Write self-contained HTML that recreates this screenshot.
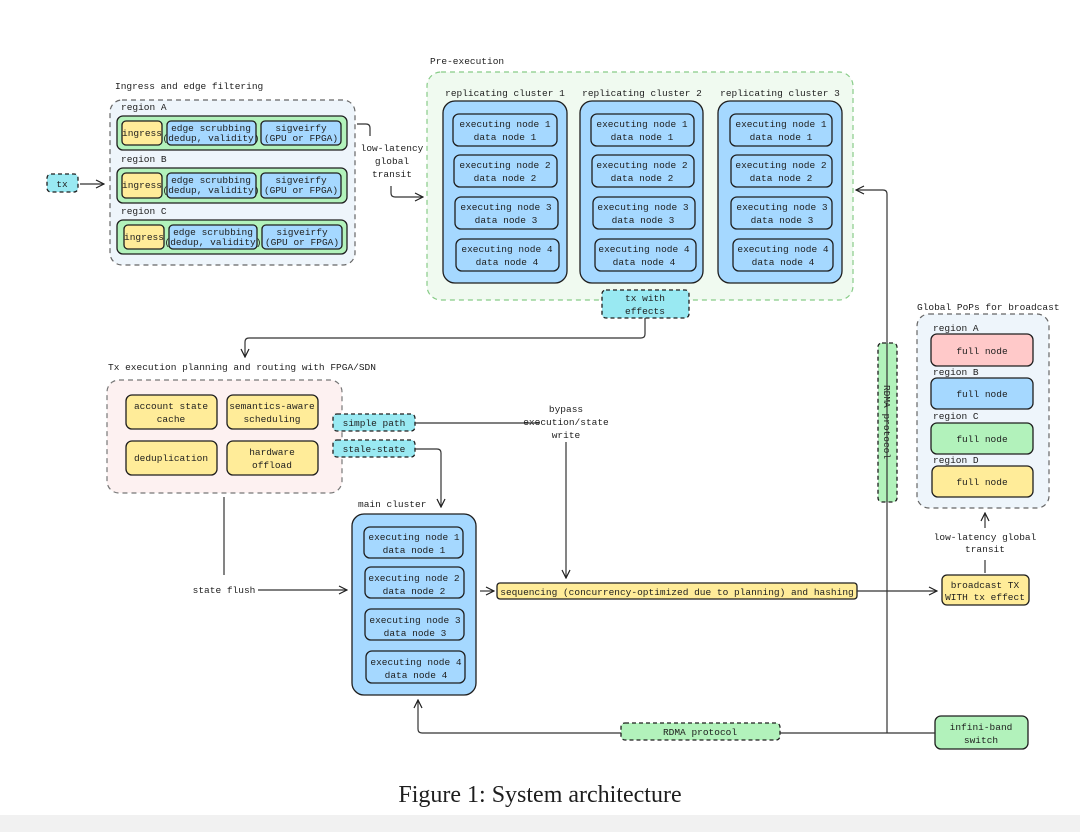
<!DOCTYPE html>
<html><head><meta charset="utf-8"><style>
html,body{margin:0;padding:0;background:#fff;}
svg text{font-family:"Liberation Mono",monospace;font-size:9.5px;fill:#1e1e1e;}
</style></head><body>
<svg width="1080" height="832" viewBox="0 0 1080 832" xmlns="http://www.w3.org/2000/svg">
<defs>
<marker id="a" markerWidth="10" markerHeight="10" refX="9" refY="5" orient="auto" markerUnits="userSpaceOnUse"><path d="M1,1 L9,5 L1,9" fill="none" stroke="#1e1e1e" stroke-width="1.2"/></marker>
</defs>
<rect x="0" y="815" width="1080" height="17" fill="#f1f1f1"/>
<g stroke="#1e1e1e" stroke-width="1.2" fill="none">
<rect x="110" y="100" width="245" height="165" rx="12" fill="#eef5fb" stroke="#666" stroke-dasharray="5,4"/>
<rect x="427" y="72" width="426" height="228" rx="14" fill="#f0faf0" stroke="#8c8" stroke-dasharray="5,4"/>
<rect x="107" y="380" width="235" height="113" rx="12" fill="#fdf1f1" stroke="#777" stroke-dasharray="5,4"/>
<rect x="917" y="314" width="132" height="194" rx="12" fill="#eef5fb" stroke="#666" stroke-dasharray="5,4"/>
</g>
<g text-anchor="start">
<text x="115" y="89">Ingress and edge filtering</text>
<text x="430" y="64">Pre-execution</text>
<text x="108" y="370">Tx execution planning and routing with FPGA/SDN</text>
<text x="917" y="310">Global PoPs for broadcast</text>
<text x="358" y="507">main cluster</text>
<g style="font-size:7.5px"><text x="121" y="110">region A</text><text x="121" y="162">region B</text><text x="121" y="214">region C</text>
<text x="933" y="331">region A</text><text x="933" y="375">region B</text><text x="933" y="419">region C</text><text x="933" y="463">region D</text></g>
</g>
<g stroke="#1e1e1e" stroke-width="1.3">
<rect x="117" y="116" width="230" height="34" rx="6" fill="#b2f2bb"/>
<rect x="117" y="168" width="230" height="35" rx="6" fill="#b2f2bb"/>
<rect x="117" y="220" width="230" height="34" rx="6" fill="#b2f2bb"/>
<rect x="122" y="121" width="40" height="24" rx="4" fill="#ffec99"/>
<rect x="122" y="173" width="40" height="25" rx="4" fill="#ffec99"/>
<rect x="124" y="225" width="40" height="24" rx="4" fill="#ffec99"/>
<rect x="167" y="121" width="89" height="24" rx="4" fill="#a5d8ff"/>
<rect x="167" y="173" width="89" height="25" rx="4" fill="#a5d8ff"/>
<rect x="169" y="225" width="88" height="24" rx="4" fill="#a5d8ff"/>
<rect x="261" y="121" width="80" height="24" rx="4" fill="#a5d8ff"/>
<rect x="261" y="173" width="80" height="25" rx="4" fill="#a5d8ff"/>
<rect x="262" y="225" width="80" height="24" rx="4" fill="#a5d8ff"/>
<rect x="443" y="101" width="124" height="182" rx="12" fill="#a5d8ff"/>
<rect x="580" y="101" width="123" height="182" rx="12" fill="#a5d8ff"/>
<rect x="718" y="101" width="124" height="182" rx="12" fill="#a5d8ff"/>
<rect x="352" y="514" width="124" height="181" rx="12" fill="#a5d8ff"/>
<rect x="126" y="395" width="91" height="34" rx="6" fill="#ffec99"/>
<rect x="227" y="395" width="91" height="34" rx="6" fill="#ffec99"/>
<rect x="126" y="441" width="91" height="34" rx="6" fill="#ffec99"/>
<rect x="227" y="441" width="91" height="34" rx="6" fill="#ffec99"/>
<rect x="931" y="334" width="102" height="32" rx="6" fill="#ffc9c9"/>
<rect x="931" y="378" width="102" height="31" rx="6" fill="#a5d8ff"/>
<rect x="931" y="423" width="102" height="31" rx="6" fill="#b2f2bb"/>
<rect x="932" y="466" width="101" height="31" rx="6" fill="#ffec99"/>
<rect x="497" y="583" width="360" height="16" rx="3" fill="#ffec99"/>
<rect x="942" y="575" width="87" height="30" rx="5" fill="#ffec99"/>
<rect x="935" y="716" width="93" height="33" rx="6" fill="#b2f2bb"/>
</g>
<g stroke="#1e1e1e" stroke-width="1.3" stroke-dasharray="4,3">
<rect x="47" y="174" width="31" height="18" rx="4" fill="#99e9f2"/>
<rect x="602" y="290" width="87" height="28" rx="4" fill="#99e9f2"/>
<rect x="333" y="414" width="82" height="17" rx="4" fill="#99e9f2"/>
<rect x="333" y="440" width="82" height="17" rx="4" fill="#99e9f2"/>
<rect x="878" y="343" width="19" height="159" rx="4" fill="#b2f2bb"/>
<rect x="621" y="723" width="159" height="17" rx="4" fill="#b2f2bb"/>
</g>
<g stroke="#1e1e1e" stroke-width="1.3" fill="none">
<rect x="453" y="114" width="104" height="32" rx="6"/><rect x="454" y="155" width="103" height="32" rx="6"/><rect x="455" y="197" width="103" height="32" rx="6"/><rect x="456" y="239" width="103" height="32" rx="6"/>
<rect x="591" y="114" width="103" height="32" rx="6"/><rect x="592" y="155" width="102" height="32" rx="6"/><rect x="593" y="197" width="102" height="32" rx="6"/><rect x="595" y="239" width="101" height="32" rx="6"/>
<rect x="730" y="114" width="102" height="32" rx="6"/><rect x="731" y="155" width="101" height="32" rx="6"/><rect x="731" y="197" width="101" height="32" rx="6"/><rect x="733" y="239" width="100" height="32" rx="6"/>
<rect x="364" y="527" width="99" height="31" rx="6"/><rect x="365" y="567" width="99" height="31" rx="6"/><rect x="365" y="609" width="99" height="31" rx="6"/><rect x="366" y="651" width="99" height="32" rx="6"/>
</g>
<g text-anchor="middle">
<g style="font-size:8px">
<text x="142" y="136">ingress</text><text x="142" y="188">ingress</text><text x="144" y="240">ingress</text>
<text x="211" y="131">edge scrubbing</text><text x="211" y="141">(dedup, validity)</text>
<text x="211" y="183">edge scrubbing</text><text x="211" y="193">(dedup, validity)</text>
<text x="213" y="235">edge scrubbing</text><text x="213" y="245">(dedup, validity)</text>
<text x="301" y="131">sigveirfy</text><text x="301" y="141">(GPU or FPGA)</text>
<text x="301" y="183">sigveirfy</text><text x="301" y="193">(GPU or FPGA)</text>
<text x="302" y="235">sigveirfy</text><text x="302" y="245">(GPU or FPGA)</text>
</g>
<text x="62" y="187">tx</text>
<text x="392" y="151">low-latency</text><text x="392" y="164">global</text><text x="392" y="177">transit</text>
<text x="505" y="96">replicating cluster 1</text><text x="642" y="96">replicating cluster 2</text><text x="780" y="96">replicating cluster 3</text>
<g id="n1"><text x="505" y="127">executing node 1</text><text x="505" y="140">data node 1</text>
<text x="505" y="168">executing node 2</text><text x="505" y="181">data node 2</text>
<text x="506" y="210">executing node 3</text><text x="506" y="223">data node 3</text>
<text x="507" y="252">executing node 4</text><text x="507" y="265">data node 4</text></g>
<use href="#n1" x="137"/><use href="#n1" x="276"/>
<use href="#n1" x="-91" y="413"/>
<text x="645" y="301">tx with</text><text x="645" y="314">effects</text>
<text x="171" y="409">account state</text><text x="171" y="422">cache</text>
<text x="272" y="409">semantics-aware</text><text x="272" y="422">scheduling</text>
<text x="171" y="461">deduplication</text>
<text x="272" y="455">hardware</text><text x="272" y="468">offload</text>
<text x="374" y="426">simple path</text><text x="374" y="452">stale-state</text>
<text x="566" y="412">bypass</text><text x="566" y="425">execution/state</text><text x="566" y="438">write</text>
<text x="224" y="593">state flush</text>
<text x="677" y="595">sequencing (concurrency-optimized due to planning) and hashing</text>
<text x="985" y="588">broadcast TX</text><text x="985" y="600">WITH tx effect</text>
<text x="985" y="540">low-latency global</text><text x="985" y="552">transit</text>
<text x="982" y="354">full node</text><text x="982" y="397">full node</text><text x="982" y="442">full node</text><text x="982" y="485">full node</text>
<text x="981" y="730">infini-band</text><text x="981" y="743">switch</text>
<text x="700" y="735">RDMA protocol</text>
<text transform="translate(884,422) rotate(90)">RDMA protocol</text>
</g>
<g stroke="#333" stroke-width="1.2" fill="none" marker-end="url(#a)">
<path d="M80,184 L104,184"/>
<path d="M391,186 L391,193 Q391,197 395,197 L423,197"/>
<path d="M887,733 L887,194 Q887,190 883,190 L856,190"/>
<path d="M645,318 L645,334 Q645,338 641,338 L249,338 Q245,338 245,342 L245,357"/>
<path d="M566,442 L566,578"/>
<path d="M415,449 L437,449 Q441,449 441,453 L441,507"/>
<path d="M258,590 L347,590"/>
<path d="M480,591 L494,591"/>
<path d="M857,591 L937,591"/>
<path d="M985,528 L985,513"/>
<path d="M621,733 L422,733 Q418,733 418,729 L418,700"/>
</g>
<g stroke="#333" stroke-width="1.2" fill="none">
<path d="M357,124 L366,124 Q370,124 370,128 L370,136"/>
<path d="M415,423 L540,423"/>
<path d="M224,497 L224,575"/>
<path d="M985,573 L985,560"/>
<path d="M935,733 L780,733"/>
</g>
<text x="540" y="802" text-anchor="middle" style="font-family:'Liberation Serif',serif;font-size:24px">Figure 1: System architecture</text>
</svg>
</body></html>
